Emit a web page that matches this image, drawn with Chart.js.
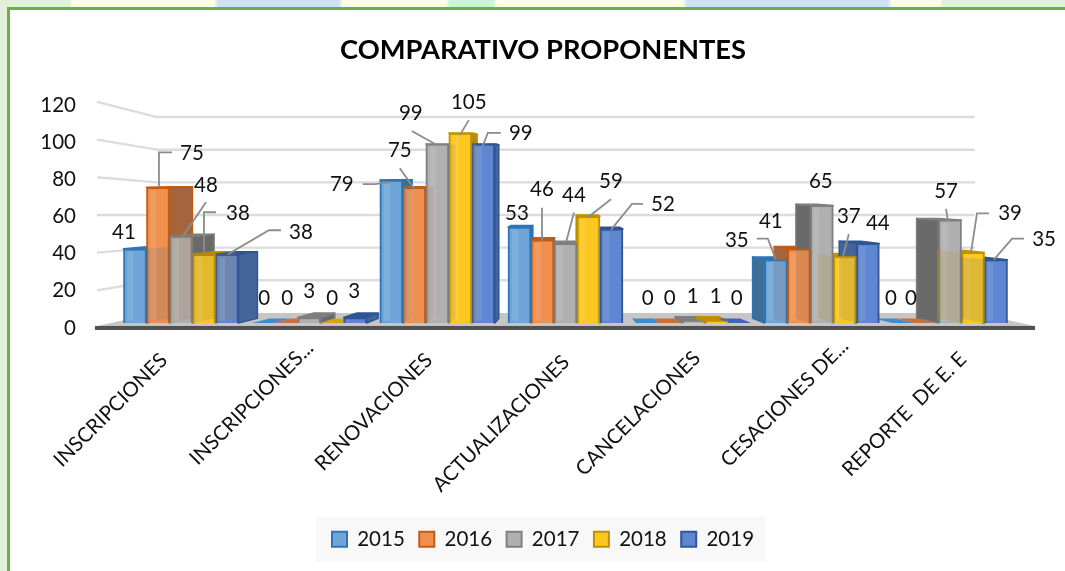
<!DOCTYPE html>
<html><head><meta charset="utf-8">
<style>
html,body{margin:0;padding:0;background:#fff;overflow:hidden}
#wrap{position:relative;width:1065px;height:571px;overflow:hidden}
#top{position:absolute;left:0;top:0;width:1065px;height:7px;background:linear-gradient(90deg,#e2efd9 0 70px,#fdfde8 72px 214px,#cde2f8 218px 339px,#fdfde8 343px 446px,#c9f4d6 450px 493px,#fdfde8 497px 683px,#cde2f8 687px 888px,#fdfde8 892px 940px,#e2efd9 943px)}
#left{position:absolute;left:0;top:7px;width:7px;height:564px;background:#e2efd9}
#bt{position:absolute;left:7px;top:7px;width:1058px;height:3px;background:#70ad47}
#bl{position:absolute;left:7px;top:7px;width:3px;height:564px;background:#70ad47}
canvas{position:absolute;left:0;top:0}
</style>
<script src="https://cdn.jsdelivr.net/npm/chart.js@4/dist/chart.umd.min.js"></script>
</head><body>
<div id="wrap"><div id="top"></div><div id="left"></div><div id="bt"></div><div id="bl"></div>
<canvas id="c" width="1065" height="571"></canvas></div>
<script>
const categories = ["INSCRIPCIONES","INSCRIPCIONES...","RENOVACIONES","ACTUALIZACIONES","CANCELACIONES","CESACIONES DE...","REPORTE  DE E. E"];
const v2015 = [41,0,79,53,0,35,0];
const v2016 = [75,0,75,46,0,41,0];
const v2017 = [48,3,99,44,1,65,57];
const v2018 = [38,0,105,59,1,37,39];
const v2019 = [38,3,99,52,0,44,35];
const yTicks = [0,20,40,60,80,100,120];
const seriesNames = ["2015","2016","2017","2018","2019"];
const seriesValues = [v2015,v2016,v2017,v2018,v2019];
const fronts = ["#6fa6da","#f0904f","#b0b0b0","#fcc71f","#5f86d0"];
const edges  = ["#2e75b6","#c55a11","#7f7f7f","#bf9000","#2f5597"];
const sides  = ["#3f6d96","#a5663c","#6a6a6a","#b58a12","#46659a"];
const flats  = ["#3e8ccd","#d07030","#9a9a9a","#d6a512","#3f67b8"];
const FONT = "Lato";

// label placement, relative to the top centre of each bar: [label offset, leader points]
const placement = [
 [[[-11,-16]],[[34,-34],[[1,0],[1,-35],[14,-35]]],[[25,-51],[[2,0],[25,-34]]],[[34,-41],[[0,-2],[0,-42],[12,-42]]],[[74,-22],[[1,0],[42,-24],[54,-24]]]],
 [[[1,-25]],[[1,-25]],[[0,-26]],[[0,-25]],[[-1,-26]]],
 [[[-49.5,4],[[-28.5,4],[-16.5,4],[.5,2]]],[[-14.5,-37],[[-14.5,-19],[-.5,1]]],[[-26.5,-31],[[-25.5,-13],[-.5,1]]],[[8.5,-31],[[8.5,-13],[-.5,2]]],[[37.5,-11],[[17.5,-11],[4.5,-11],[-.5,2]]]],
 [[[-2.5,-14]],[[-.5,-50],[[-.5,-32],[-.5,1]]],[[8.5,-48],[[8.5,-31],[.5,-1]]],[[22.5,-35],[[22.5,-17],[-.5,1]]],[[51.5,-25],[[31.5,-25],[20.5,-25],[-.5,1]]]],
 [[[0,-25]],[[-1,-25]],[[-1,-25]],[[-1,-25]],[[-3,-25]]],
 [[[-39,-19],[[-19,-21],[-8,-21],[0,0]]],[[-28,-27]],[[-1,-24]],[[4,-40],[[4,-22],[-2,1]]],[[10,-20]]],
 [[[-13,-25]],[[-16,-25]],[[-4,-29],[[-4,-11],[-2,1]]],[[37,-39],[[16,-39],[4,-39],[-2,0]]],[[48,-20],[[28,-21],[16,-21],[-2,0]]]]
];
// small per-label corrections of the slanted category labels
const labelNudge = [[0,-2],[12,-14],[-3,-2],[0,0],[-3,-4],[11,-16],[-5,-3]];

// simple one point perspective for the depth of the bars
const VX = 563, VY = 170, KX = .0584, KY = .03;
const depthX = x => (VX - x) * KX;
const depthY = y => (y - VY) * KY;

function faces(el){
  const hw = el.width/2, x0 = el.x-hw, x1 = el.x+hw, t = el.y, b = el.base;
  const top = [[x0,t],[x1,t],[x1+depthX(x1),t-depthY(t)],[x0+depthX(x0),t-depthY(t)]];
  const sx = x1 < VX ? x1 : (x0 > VX ? x0 : null);
  const side = sx===null ? null : [[sx,t],[sx+depthX(sx),t-depthY(t)],[sx+depthX(sx),b-depthY(b)],[sx,b]];
  return {top,side};
}
function poly(ctx,pts){ctx.beginPath();pts.forEach((p,i)=>i?ctx.lineTo(p[0],p[1]):ctx.moveTo(p[0],p[1]));ctx.closePath();}

const scene = {
  id:"scene",
  beforeDraw(chart){
    const ctx=chart.ctx, lg=chart.legend.legendHitBoxes;
    chart.scales.xLabels.getLabelItems().forEach((it,i)=>{
      if(it._nudged) return;
      const t=it.options.translation; it.options.translation=[t[0]+labelNudge[i][0],t[1]+labelNudge[i][1]]; it._nudged=true;
    });
    if(!lg||!lg.length) return;
    const l=lg[0].left-16, r=lg[lg.length-1].left+lg[lg.length-1].width+12, cy=lg[0].top+lg[0].height/2;
    ctx.save();ctx.fillStyle="#f8f8f8";ctx.fillRect(l,cy-22.5,r-l,45);ctx.restore();
  },
  beforeDatasetsDraw(chart){
    const ctx=chart.ctx, a=chart.chartArea, yb=chart.scales.yBack, yl=chart.scales.yLabels, bx0=a.left+60, bx1=a.right-60;
    ctx.save();
    // floor
    const zb=yb.getPixelForValue(0), fy=chart.scales.y.getPixelForValue(0)+3;
    poly(ctx,[[a.left,fy],[a.right,fy],[bx1,zb],[bx0,zb]]);ctx.fillStyle="#c6c6c6";ctx.fill();
    // walls
    ctx.strokeStyle="#dcdcdc";ctx.lineWidth=2.4;ctx.lineJoin="round";
    yTicks.filter(v=>v>0).forEach(v=>{
      const fyv=yl.getPixelForValue(v)-3*v/120, by=yb.getPixelForValue(v);
      ctx.beginPath();ctx.moveTo(a.left,fyv);ctx.lineTo(bx0,by);ctx.lineTo(bx1,by);ctx.stroke();
    });
    // floor edge
    ctx.fillStyle="#505050";ctx.fillRect(a.left-2,fy,a.right-a.left+2,4);
    // depth faces
    chart.data.datasets.forEach((ds,di)=>{
      chart.getDatasetMeta(di).data.forEach(el=>{
        const f=faces(el), flat=el.base-el.y<1;
        if(f.side&&!flat){poly(ctx,f.side);ctx.fillStyle=sides[di];ctx.fill();ctx.strokeStyle=edges[di];ctx.lineWidth=1.5;ctx.stroke();}
        poly(ctx,f.top);ctx.fillStyle=flat?flats[di]:edges[di];ctx.fill();
        if(!flat){ctx.strokeStyle=edges[di];ctx.lineWidth=1.5;ctx.stroke();}
      });
    });
    ctx.restore();
  },
  afterDatasetsDraw(chart){
    const ctx=chart.ctx;
    ctx.save();
    // bars are glassy: depth faces tint what sits in front of them, fronts carry a soft band
    chart.data.datasets.forEach((ds,di)=>{
      chart.getDatasetMeta(di).data.forEach((el,ci)=>{
        const f=faces(el), h=el.base-el.y;
        if(h>8){
          ctx.fillStyle="rgba(255,255,255,.10)";
          const left = el.x > VX ? el.x-el.width/2+3 : el.x-el.width/2+4;
          ctx.fillRect(left,el.y+3,6,h-5);
        }
        if(f.side&&h>1){poly(ctx,f.side);ctx.fillStyle=sides[di];ctx.globalAlpha=.16;ctx.fill();ctx.globalAlpha=1;}
      });
    });
    // leaders and value labels
    ctx.font="20.5px "+FONT;ctx.textAlign="center";ctx.textBaseline="middle";
    chart.data.datasets.forEach((ds,di)=>{
      chart.getDatasetMeta(di).data.forEach((el,ci)=>{
        const pl=placement[ci][di], L=pl[0], path=pl[1];
        if(path){
          ctx.beginPath();path.forEach((p,i)=>i?ctx.lineTo(el.x+p[0],el.y+p[1]):ctx.moveTo(el.x+p[0],el.y+p[1]));
          ctx.strokeStyle="#8c8c8c";ctx.lineWidth=1.8;ctx.stroke();
        }
        ctx.fillStyle="#111";
        ctx.fillText(String(seriesValues[di][ci]),el.x+L[0],el.y+L[1]);
      });
    });
    ctx.restore();
  }
};

new Chart(document.getElementById("c"),{
  type:"bar",
  data:{
    datasets:seriesNames.map((n,i)=>({
      label:n,
      data:seriesValues[i].map((v,k)=>({x:k,y:v})),
      backgroundColor:fronts[i],borderColor:edges[i],borderWidth:2,
      barThickness:23,xAxisID:"x",yAxisID:"y"
    }))
  },
  options:{
    responsive:false,animation:false,
    layout:{padding:{left:34,right:13,top:0,bottom:11.5}},
    plugins:{
      tooltip:{enabled:false},
      title:{display:true,text:"COMPARATIVO PROPONENTES",color:"#000",
        font:{family:FONT,size:27.3,weight:"bold",lineHeight:1.2},padding:{top:34,bottom:38.2}},
      legend:{position:"bottom",labels:{color:"#111",boxWidth:15,boxHeight:15,padding:14.5,font:{family:FONT,size:20.5}}}
    },
    scales:{
      x:{type:"linear",display:false,min:-.655,max:6.663,offset:false},
      y:{display:false,min:-2.78,max:120.56,stacked:false},
      xLabels:{type:"category",labels:categories,position:"bottom",offset:true,
        grid:{display:false},border:{display:false},
        ticks:{color:"#111",font:{family:FONT,size:20.4},minRotation:45,maxRotation:45,padding:14,autoSkip:false},
        afterFit(s){s.height=186.5;s.paddingLeft=0;s.paddingRight=0;}},
      yLabels:{type:"linear",position:"left",min:0,max:120,
        grid:{display:false},border:{display:false},
        ticks:{stepSize:20,color:"#111",font:{family:FONT,size:20.5},padding:13},
        afterFit(s){s.width=63;}},
      yBack:{type:"linear",position:"right",min:-9.23,max:127.4,
        grid:{display:false},border:{display:false},ticks:{display:false},
        afterFit(s){s.width=17;}}
    }
  },
  plugins:[scene]
});
</script>
</body></html>
